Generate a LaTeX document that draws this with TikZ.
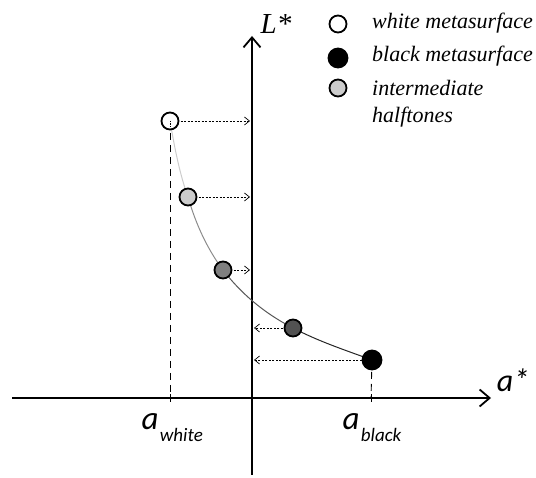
\documentclass[tikz,border=0pt]{standalone}
\usepackage{fontspec}
\setmainfont{Liberation Serif}
\newfontfamily\axfont{Carlito}
\usetikzlibrary{arrows.meta}
\begin{document}
\begin{tikzpicture}[x=1pt,y=-1pt,
  pt/.style={circle,draw=black,line width=1.8pt,minimum size=17pt,inner sep=0pt},
  axis/.style={line width=1.8pt,-{Straight Barb[length=10pt,width=17pt,line width=1.8pt]}},
  proj/.style={line width=0.8pt,dash pattern=on 2pt off 1.5pt,-{Straight Barb[length=5pt,width=8pt,line width=0.7pt]}},
  guide/.style={line width=0.9pt,dash pattern=on 7pt off 5pt},
  leg/.style={anchor=west,font=\itshape\fontsize{22}{24}\selectfont,inner sep=0pt}]
\useasboundingbox (0,0) rectangle (536,478);
% axes
\coordinate (xs) at (12,398);
\coordinate (xe) at (491,398);
\coordinate (ys) at (252,475);
\coordinate (ye) at (252,36);
\draw[axis] (xs) -- (xe);
\draw[axis] (ys) -- (ye);
\node[font=\itshape\fontsize{29}{32}\selectfont,inner sep=0pt] (Lab) at (276,24) {L*};
\node[font=\axfont\itshape\fontsize{32}{34}\selectfont,inner sep=0pt] (aab) at (513,380) {a*};
% ticks
\coordinate (tw) at (170,398);
\coordinate (tb) at (371,398);
\draw[line width=1pt] (170,394) -- (170,402);
\draw[line width=1pt] (371,394) -- (371,402);
\node[font=\axfont\itshape\fontsize{33}{35}\selectfont,inner sep=0pt,anchor=base] (aw) at (150,430) {a};
\node[font=\axfont\itshape\fontsize{19}{21}\selectfont,inner sep=0pt,anchor=base west] (awl) at ([xshift=1pt]aw.base east) {\raisebox{-12pt}{white}};
\node[font=\axfont\itshape\fontsize{33}{35}\selectfont,inner sep=0pt,anchor=base] (ab) at (351,430) {a};
\node[font=\axfont\itshape\fontsize{19}{21}\selectfont,inner sep=0pt,anchor=base west] (abl) at ([xshift=1pt]ab.base east) {\raisebox{-12pt}{black}};
% curve
\coordinate (c0) at (170,121);
\coordinate (c1) at (188,197);
\coordinate (c2) at (223,270);
\coordinate (c3) at (293,328);
\coordinate (c4) at (372,360);
\draw[black!20,line width=1pt] (c0) .. controls (175,150) and (180,175) .. (c1);
\draw[black!45,line width=1pt] (c1) .. controls (196,225) and (208,250) .. (c2);
\draw[black!65,line width=1pt] (c2) .. controls (240,292) and (262,312) .. (c3);
\draw[black!85,line width=1pt] (c3) .. controls (320,342) and (345,350) .. (c4);
% guides
\draw[guide] (c0) -- (tw);
\draw[guide] (c4) -- (tb);
% projections
\coordinate (p0) at (250,121);
\coordinate (p1) at (250,197);
\coordinate (p2) at (250,270);
\coordinate (p3) at (254,328);
\coordinate (p4) at (254,360);
\draw[proj] (c0) -- (p0);
\draw[proj] (c1) -- (p1);
\draw[proj] (c2) -- (p2);
\draw[proj] (c3) -- (p3);
\draw[proj] (c4) -- (p4);
% points
\node[pt,fill=white] (w) at (c0) {};
\node[pt,fill=black!20] (g1) at (c1) {};
\node[pt,fill=black!50] (g2) at (c2) {};
\node[pt,fill=black!68] (g3) at (c3) {};
\node[pt,fill=black,minimum size=19pt] (bk) at (c4) {};
\draw[densely dotted,line width=0.6pt] (c0) -- +(0,6);
% legend
\node[pt,fill=white] (l1) at (338,24) {};
\node[pt,fill=black,minimum size=19pt] (l2) at (338,58) {};
\node[pt,fill=black!20] (l3) at (338,88) {};
\node[leg] (t1) at (372,23) {white metasurface};
\node[leg] (t2) at (372,56) {black metasurface};
\node[leg] (t3) at (372,88) {intermediate};
\node[leg] (t4) at (372,117) {halftones};
\end{tikzpicture}
\end{document}
